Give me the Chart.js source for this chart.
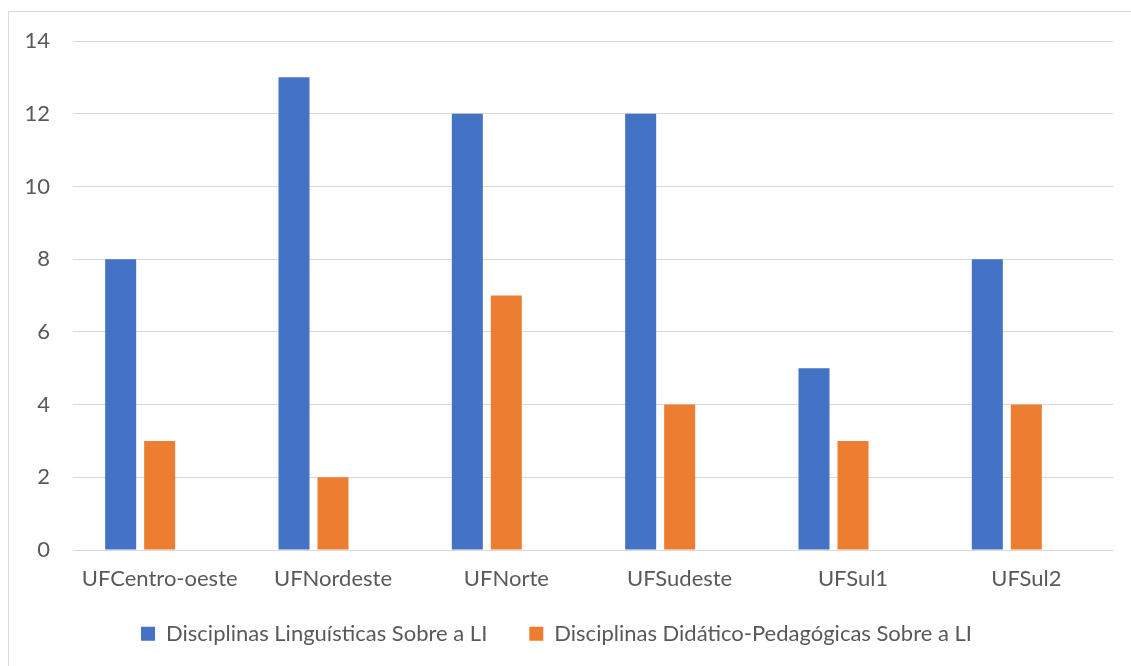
<!DOCTYPE html>
<html>
<head>
<meta charset="utf-8">
<script src="https://cdn.jsdelivr.net/npm/chart.js@4.4.1/dist/chart.umd.min.js"></script>
<style>
  html, body { margin: 0; padding: 0; background: #fff; }
  #wrap { width: 1131px; height: 666px; position: relative; }
</style>
</head>
<body>
<div id="wrap"><canvas id="disciplinasChart"></canvas></div>
<script>
const categories = ["UFCentro-oeste", "UFNordeste", "UFNorte", "UFSudeste", "UFSul1", "UFSul2"];
const linguisticas = [8, 13, 12, 12, 5, 8];
const didaticoPedagogicas = [3, 2, 7, 4, 3, 4];
// empty third series in the source, keeps the pair left of centre
const emptySeries = [];
const yTicks = [0, 2, 4, 6, 8, 10, 12, 14];

const textColor = "#595959";
const fontFamily = "Lato, 'Liberation Sans', sans-serif";
const fontSize = 22;
const legendPadding = 42;

// frame of the chart object (only top/left edges fall inside the picture)
const framePlugin = {
  id: "frame",
  beforeDraw: (chart) => {
    const ctx = chart.ctx;
    ctx.save();
    ctx.strokeStyle = "#d9d9d9";
    ctx.lineWidth = 1;
    ctx.strokeRect(8.5, 11.5, 1200, 700);
    ctx.restore();
  },
};

// the legend padding is wide for the gap between items,
// so clamp its height and pull it up after layout
const legendHeightPlugin = {
  id: "legendHeight",
  beforeLayout: (chart) => {
    const lg = chart.legend;
    if (lg && !lg._clamped) {
      const fit = lg.fit.bind(lg);
      lg.fit = function () {
        fit();
        this.height = 53;
      };
      lg._clamped = true;
    }
  },
  afterLayout: (chart) => {
    const lg = chart.legend;
    const top = 636 - legendPadding - fontSize * 0.6;
    lg.top = top;
    lg.bottom = chart.height;
    lg.height = lg.bottom - top;
  },
};

const ctx = document.getElementById("disciplinasChart").getContext("2d");

new Chart(ctx, {
  type: "bar",
  data: {
    labels: categories,
    datasets: [
      {
        label: "Disciplinas Linguísticas Sobre a LI",
        data: linguisticas,
        backgroundColor: "#4472C4",
      },
      {
        label: "Disciplinas Didático-Pedagógicas Sobre a LI",
        data: didaticoPedagogicas,
        backgroundColor: "#ED7D31",
      },
      {
        label: "",
        data: emptySeries,
        backgroundColor: "#A5A5A5",
      },
    ],
  },
  options: {
    responsive: true,
    maintainAspectRatio: false,
    animation: false,
    datasets: {
      bar: {
        categoryPercentage: 0.675,
        barPercentage: 0.795,
      },
    },
    layout: {
      padding: { top: 41, right: 18, bottom: 0, left: 0 },
    },
    plugins: {
      tooltip: { enabled: false },
      legend: {
        position: "bottom",
        labels: {
          filter: (item) => item.text !== "",
          boxWidth: 14,
          boxHeight: 14,
          padding: legendPadding,
          color: textColor,
          font: { family: fontFamily, size: fontSize },
        },
      },
    },
    scales: {
      x: {
        grid: { display: false, drawTicks: false },
        border: { color: "#d9d9d9" },
        ticks: {
          color: textColor,
          font: { family: fontFamily, size: fontSize },
          padding: 16,
          maxRotation: 0,
        },
        afterFit: (scale) => {
          scale.height = 63;
        },
      },
      y: {
        min: 0,
        max: 14,
        afterBuildTicks: (scale) => {
          scale.ticks = yTicks.map((v) => ({ value: v }));
        },
        grid: { color: "#d9d9d9", drawTicks: false },
        border: { display: false },
        ticks: {
          color: textColor,
          font: { family: fontFamily, size: fontSize },
          padding: 23,
        },
        afterFit: (scale) => {
          scale.width = 73;
        },
      },
    },
  },
  plugins: [framePlugin, legendHeightPlugin],
});
</script>
</body>
</html>
